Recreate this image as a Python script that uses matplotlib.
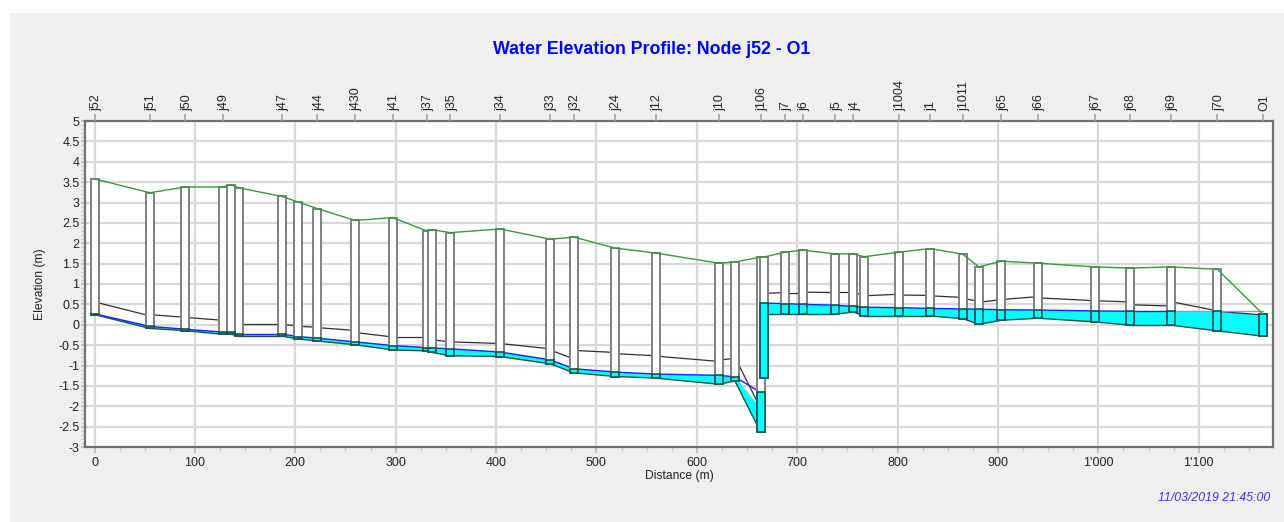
import matplotlib
matplotlib.use("Agg")
import matplotlib.pyplot as plt
from matplotlib.patches import Rectangle
from matplotlib.ticker import MultipleLocator, FuncFormatter
from matplotlib.transforms import ScaledTranslation

plt.rcParams['font.family'] = ['Liberation Sans', 'DejaVu Sans']

# Nodes along the profile, '' means the label was dropped on the chart
node_names = ['j52', 'j51', 'j50', 'j49', '', '', 'j47', '', 'j44', 'j430', 'j41', 'j37', '',
              'j35', 'j34', 'j33', 'j32', 'j24', 'j12', 'j10', '', 'j106', '', 'j7', 'j6', 'j5',
              'j4', '', 'j1004', 'j1', 'j1011', '', 'j65', 'j66', 'j67', 'j68', 'j69', 'j70', 'O1']
node_x = [0, 55, 90.5, 127.7, 135.6, 143.5, 186.7, 203, 222, 259.5, 297, 331, 336.5,
          354.5, 404, 454, 477.7, 518.6, 559, 622, 638, 663.5, 666.5, 687.7, 705.7, 738,
          756, 766.7, 801.6, 832.5, 865, 881, 903.5, 940, 996.6, 1031.7, 1072, 1118.6, 1164]
rim = [3.58, 3.24, 3.38, 3.38, 3.44, 3.36, 3.15, 3.01, 2.85, 2.56, 2.63, 2.30, 2.33,
       2.26, 2.35, 2.10, 2.15, 1.88, 1.76, 1.51, 1.54, 1.66, 1.66, 1.78, 1.83, 1.74,
       1.74, 1.67, 1.78, 1.87, 1.73, 1.42, 1.56, 1.51, 1.42, 1.39, 1.42, 1.36, 0.26]
node_inv = [0.25, -0.09, -0.145, -0.235, -0.23, -0.28, -0.28, -0.35, -0.40, -0.49, -0.62, -0.64, -0.68,
            -0.76, -0.78, -0.96, -1.18, -1.27, -1.31, -1.46, -1.38, -2.63, -1.31, 0.26, 0.26, 0.26,
            0.31, 0.215, 0.215, 0.215, 0.15, 0.01, 0.11, 0.16, 0.07, -0.01, -0.01, -0.15, -0.28]
water = [0.27, -0.04, -0.11, -0.18, -0.19, -0.23, -0.23, -0.29, -0.33, -0.42, -0.51, -0.56, -0.57,
         -0.59, -0.67, -0.86, -1.08, -1.16, -1.21, -1.24, -1.28, -1.66, 0.53, 0.52, 0.50, 0.48,
         0.45, 0.43, 0.42, 0.40, 0.39, 0.38, 0.37, 0.36, 0.34, 0.33, 0.33, 0.33, 0.33]

# Each pipe has its own crown and invert at the two ends
crown_up = [0.56, 0.25, 0.18, 0.05, 0.05, 0.03, 0.0, -0.04, -0.07, -0.19, -0.30, -0.32, -0.37,
            -0.42, -0.46, -0.62, -0.63, -0.71, -0.77, -0.87, -0.80, -1.68, 0.77, 0.79, 0.80,
            0.81, 0.78, 0.71, 0.73, 0.71, 0.65, 0.55, 0.62, 0.66, 0.59, 0.49, 0.57, 0.33]
crown_dn = [0.22, 0.18, 0.11, 0.05, 0.03, 0.03, -0.02, -0.06, -0.14, -0.30, -0.30, -0.33, -0.42,
            -0.46, -0.59, -0.84, -0.68, -0.76, -0.90, -0.82, -2.05, -1.31, 0.79, 0.79, 0.79,
            0.81, 0.74, 0.75, 0.72, 0.67, 0.57, 0.62, 0.69, 0.59, 0.56, 0.46, 0.34, 0.24]
pipe_inv_up = [0.25, -0.09, -0.145, -0.235, -0.23, -0.28, -0.28, -0.35, -0.40, -0.49, -0.62, -0.64, -0.68,
               -0.76, -0.78, -0.96, -1.18, -1.27, -1.31, -1.46, -1.38, -2.63, 0.26, 0.26, 0.26, 0.26,
               0.31, 0.215, 0.215, 0.215, 0.15, 0.01, 0.11, 0.16, 0.07, -0.01, -0.01, -0.15]

box_width = 8

fig = plt.figure(figsize=(12.84, 5.22), dpi=100, facecolor='white')
# grey window behind the plot
fig.patches.append(Rectangle((10 / 1284, 0), 1274 / 1284, 509 / 522, transform=fig.transFigure,
                             facecolor='#EFEFEF', edgecolor='none', zorder=-5))
ax = fig.add_axes([85 / 1284, 1 - 447 / 522, (1273 - 85) / 1284, (447 - 121) / 522])
ax.set_xlim(-9.5, 1174)
ax.set_ylim(-3, 5)

ax.xaxis.set_major_locator(MultipleLocator(100))
ax.xaxis.set_minor_locator(MultipleLocator(25))
ax.yaxis.set_major_locator(MultipleLocator(0.5))
ax.yaxis.set_minor_locator(MultipleLocator(0.1))
ax.xaxis.set_major_formatter(FuncFormatter(lambda v, p: f"{int(v):,}".replace(',', "'")))
ax.yaxis.set_major_formatter(FuncFormatter(lambda v, p: f"{v:g}"))
ax.grid(True, which='major', color='#D8D8D8', linewidth=1.6, zorder=0)
ax.set_axisbelow(True)
ax.tick_params(axis='x', which='major', length=4, width=1.2, color='#B8B8B8', labelsize=9, pad=3, labelcolor='#222222')
ax.tick_params(axis='y', which='major', length=3, width=1.2, color='#B8B8B8', labelsize=9, pad=1, labelcolor='#222222')
ax.tick_params(which='minor', length=3, width=1, color='#C8C8C8')
for s in ax.spines.values():
    s.set_color('#707070')
    s.set_linewidth(1.6)

# pipes first, the manholes are drawn over them
for i in range(len(node_x) - 1):
    x0, x1 = node_x[i], node_x[i + 1]
    inv0, inv1 = pipe_inv_up[i], node_inv[i + 1]
    top0 = min(water[i], crown_up[i])
    top1 = min(water[i + 1], crown_dn[i])
    ax.fill([x0, x1, x1, x0], [inv0, inv1, top1, top0], color='#00FFFF', linewidth=0, zorder=2)
    ax.plot([x0, x1], [crown_up[i], crown_dn[i]], color='#303030', linewidth=0.9, zorder=3)
    ax.plot([x0, x1], [inv0, inv1], color='#1F4F3F', linewidth=1.0, zorder=3)
    # the water line fades out towards the outfall
    wcol = '#9A8CF0' if i >= 36 else '#2020FF'
    ax.plot([x0, x1], [water[i], water[i + 1]], color=wcol, linewidth=1.0, zorder=3.5)

for i in range(len(node_x)):
    x = node_x[i] - box_width / 2
    ax.add_patch(Rectangle((x, node_inv[i]), box_width, rim[i] - node_inv[i], facecolor='white',
                           edgecolor='#808080', linewidth=1.4, zorder=4 + i * 0.001))
    top = min(water[i], rim[i])
    ax.add_patch(Rectangle((x, node_inv[i]), box_width, top - node_inv[i], facecolor='#00FFFF',
                           edgecolor='#0F4F4F', linewidth=1.2, zorder=4.1 + i * 0.001))

ax.plot(node_x, rim, color='#3C963C', linewidth=1.0, zorder=5)

ax.set_xlabel('Distance (m)', fontsize=8.7, labelpad=1, color='#222222')
ax.set_ylabel('Elevation (m)', fontsize=8.7, labelpad=9, color='#222222')

# node names along the top
top_x = [x for x, n in zip(node_x, node_names) if n]
top_labels = [n for n in node_names if n]
top = ax.twiny()
top.set_xlim(ax.get_xlim())
top.set_xticks(top_x)
top.set_xticklabels(top_labels, rotation=90, fontsize=9, color='#222222')
top.tick_params(length=5, width=1.2, color='#A0A0A0', pad=2)
top.xaxis.set_minor_locator(plt.NullLocator())
for s in top.spines.values():
    s.set_visible(False)
# names sit about 1.5 px right of where matplotlib centres them
shift = ScaledTranslation(1.5 / 100, 0, fig.dpi_scale_trans)
for lab in top.get_xticklabels():
    lab.set_transform(lab.get_transform() + shift)

fig.text(652 / 1284, 1 - 50 / 522, 'Water Elevation Profile: Node j52 - O1', color='#0000FF', fontsize=12.8,
         fontweight='bold', ha='center', va='center')
fig.text(1270 / 1284, 1 - 498 / 522, '11/03/2019 21:45:00', color='#3C32E6', fontsize=8.8, style='italic',
         ha='right', va='center')

fig.savefig('out.png', dpi=100)
